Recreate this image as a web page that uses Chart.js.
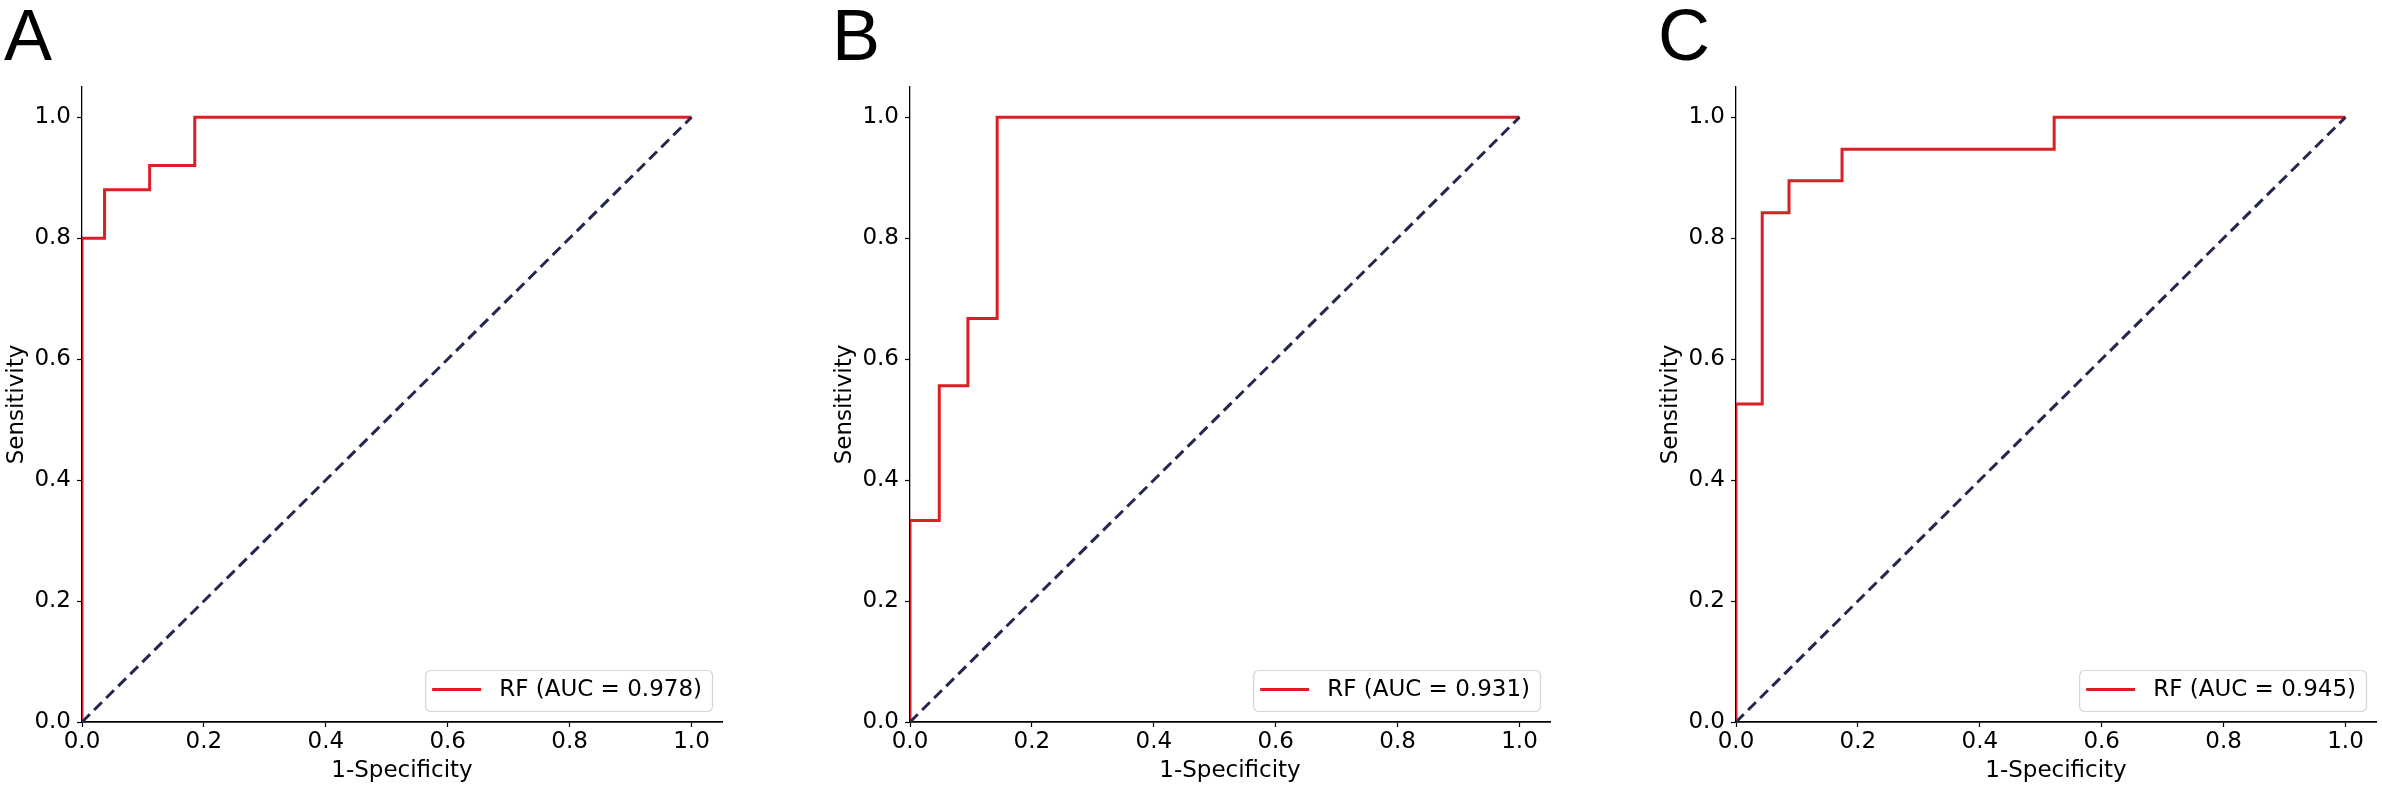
<!DOCTYPE html>
<html>
<head>
<meta charset="utf-8">
<script src="https://cdn.jsdelivr.net/npm/chart.js@4.4.1/dist/chart.umd.min.js"></script>
<style>
  body { margin: 0; background: #fff; width: 2382px; height: 790px; position: relative; overflow: hidden; }
  .panel { position: absolute; top: 0; height: 790px; }
</style>
</head>
<body>
<div class="panel" style="left:0px;width:760px"><canvas id="chartA"></canvas></div>
<div class="panel" style="left:828px;width:760px"><canvas id="chartB"></canvas></div>
<div class="panel" style="left:1654px;width:728px"><canvas id="chartC"></canvas></div>
<script>
// data

const panelLetters = ['A', 'B', 'C'];
const modelName = 'RF';
const aucValues = [0.978, 0.931, 0.945];

// panel A
const fprA = [0, 0, 0.037, 0.037, 0.111, 0.111, 0.185, 0.185, 1];
const tprA = [0, 0.80, 0.80, 0.88, 0.88, 0.92, 0.92, 1, 1];
// panel B
const fprB = [0, 0, 0.048, 0.048, 0.095, 0.095, 0.143, 0.143, 1];
const tprB = [0, 0.333, 0.333, 0.556, 0.556, 0.667, 0.667, 1, 1];
// panel C
const fprC = [0, 0, 0.043, 0.043, 0.087, 0.087, 0.174, 0.174, 0.522, 0.522, 1];
const tprC = [0, 0.526, 0.526, 0.842, 0.842, 0.895, 0.895, 0.947, 0.947, 1, 1];

// chance diagonal
const chanceX = [0, 1];
const chanceY = [0, 1];

const tickValues = [0, 0.2, 0.4, 0.6, 0.8, 1.0];
const axisMax = 1.05;

const rocRed = '#dc1e26';
const navy = '#24284f';
const font = { family: '"DejaVu Sans", sans-serif', size: 23 };

// draws the panel letter and the boxed legend inside the plot
const panelDecor = {
    id: 'panelDecor',
    afterDraw(chart, args, opts) {
        const { ctx, chartArea } = chart;
        ctx.save();

        // legend box, lower right
        ctx.font = '23px "DejaVu Sans", sans-serif';
        const tw = ctx.measureText(opts.label).width;
        const w = 74 + tw + 10;
        const h = 41;
        const x = chartArea.right - 10 - w;
        const y = chartArea.bottom - 11 - h;
        ctx.beginPath();
        ctx.roundRect(x + 0.5, y + 0.5, w, h, 5);
        ctx.fillStyle = 'rgba(255,255,255,0.8)';
        ctx.fill();
        ctx.strokeStyle = '#d6d6d6';
        ctx.lineWidth = 1.2;
        ctx.stroke();

        ctx.beginPath();
        ctx.moveTo(x + 7, y + 19.5);
        ctx.lineTo(x + 56, y + 19.5);
        ctx.strokeStyle = rocRed;
        ctx.lineWidth = 3;
        ctx.stroke();

        ctx.fillStyle = '#000';
        ctx.textBaseline = 'middle';
        ctx.textAlign = 'left';
        ctx.fillText(opts.label, x + 74, y + 20);

        // panel letter
        ctx.font = '72px "Liberation Sans", Arial, sans-serif';
        ctx.textBaseline = 'alphabetic';
        ctx.fillText(opts.letter, 4, 60);
        ctx.restore();
    }
};

function makeAxis(titleText, isX) {
    return {
        type: 'linear',
        min: 0,
        max: axisMax,
        afterBuildTicks: s => { s.ticks = tickValues.map(v => ({ value: v })); },
        afterFit: s => {
            if (isX) s.height = 68; else s.width = 82;
        },
        ticks: {
            callback: v => v.toFixed(1),
            font: font,
            color: '#000',
            padding: isX ? 1 : 6,
            maxRotation: 0,
            autoSkip: false
        },
        grid: {
            display: true,
            drawOnChartArea: false,
            drawTicks: true,
            tickLength: 5,
            tickColor: '#000',
            tickWidth: 1.2
        },
        border: { display: true, color: '#000', width: isX ? 1.8 : 1.3 },
        title: {
            display: true,
            text: titleText,
            font: font,
            color: '#000',
            padding: isX ? { top: 0, bottom: 5 } : { top: 3, bottom: 0 }
        }
    };
}

function drawPanel(canvasId, idx, fpr, tpr, rightPad) {
    const rocPoints = fpr.map((v, i) => ({ x: v, y: tpr[i] }));
    const chancePoints = chanceX.map((v, i) => ({ x: v, y: chanceY[i] }));

    const data = {
        datasets: [
            {
                label: modelName + ' (AUC = ' + aucValues[idx].toFixed(3) + ')',
                data: rocPoints,
                showLine: true,
                borderColor: rocRed,
                borderWidth: 3,
                pointRadius: 0,
                tension: 0,
                clip: 0,
                order: 1
            },
            {
                label: 'chance',
                data: chancePoints,
                showLine: true,
                borderColor: navy,
                borderWidth: 3,
                borderDash: [11, 6],
                pointRadius: 0,
                clip: 0,
                order: 0
            }
        ]
    };

    const options = {
        responsive: true,
        maintainAspectRatio: false,
        animation: false,
        layout: { padding: { top: 87, right: rightPad, left: 0, bottom: 0 } },
        scales: {
            x: makeAxis('1-Specificity', true),
            y: makeAxis('Sensitivity', false)
        },
        plugins: {
            legend: { display: false },
            tooltip: { enabled: false },
            panelDecor: {
                letter: panelLetters[idx],
                label: modelName + ' (AUC = ' + aucValues[idx].toFixed(3) + ')'
            }
        }
    };

    return new Chart(document.getElementById(canvasId), {
        type: 'scatter',
        data,
        options,
        plugins: [panelDecor]
    });
}

drawPanel('chartA', 0, fprA, tprA, 38);
drawPanel('chartB', 1, fprB, tprB, 38);
drawPanel('chartC', 2, fprC, tprC, 6);
</script>
</body>
</html>
